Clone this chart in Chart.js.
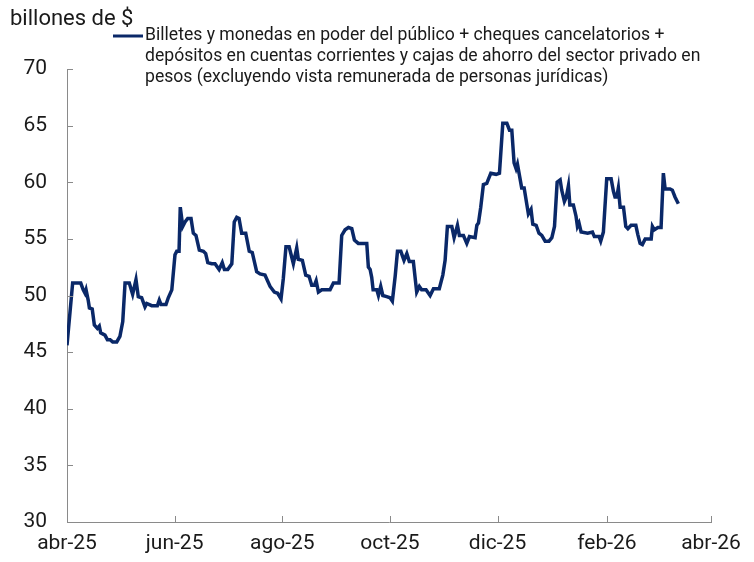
<!DOCTYPE html>
<html>
<head>
<meta charset="utf-8">
<script src="https://cdn.jsdelivr.net/npm/chart.js@4"></script>
<style>
html,body{margin:0;padding:0;background:#fff;}
#wrap{width:754px;height:562px;position:relative;}
</style>
</head>
<body>
<div id="wrap"><canvas id="c" width="754" height="562"></canvas></div>
<script>
// Days since 1 April 2025
const days = [
0,3.2,7.8,9.2,10.2,10.8,12,12.7,14.3,15.5,17.2,18.3,19.1,21.5,22.9,24.4,25.9,28.2,30,31.6,
32.9,35.3,37.2,39.1,40.4,42.3,44.2,45.2,48,51.2,52.3,53.3,56.1,57.4,59.4,61.2,62.2,63.5,64.2,65.6,
66.9,68.4,70.3,71.6,73.1,75,77.3,78.6,79.8,82,83.9,86.2,88,89.2,91.1,93.4,94.8,96.2,97.5,99,
101.3,103.3,105,107.5,109.4,112.2,115.1,117.5,119.4,121.3,122.6,124.1,125.9,128.3,130.2,131.1,133.4,135.3,137.2,138.7,
140.2,141.2,142.5,144.4,149.1,151,154.2,155.7,157.6,159.5,161.4,162.9,165.1,169.9,170.8,171.8,172.7,173.5,175.6,176.5,
177.8,179,181.2,183.1,184.4,186,187.3,189.2,191,192.6,194,196.3,198.2,199.7,201,203.5,205.8,207.7,211,213,
214.3,215.6,218.1,219.4,221.3,222.4,224.7,226.6,228.1,231.3,232.3,233.2,234.5,236,237.9,240.2,243.2,245.1,247,249.3,
250.8,252.1,253.4,254.5,255.3,257.7,259.1,261.5,263,264,265.9,267.5,269.1,271,273.2,274.8,276.3,277.8,279.5,280.4,
281.9,283,284.2,285,287,288.5,289.3,290.2,291.4,295.1,297.8,298.9,301.6,302.5,304,305.9,308.4,309.7,310.6,311.6,
312.5,313.5,315.4,316.7,317.9,319.7,322.4,323.5,324.8,326.1,327.7,331.1,331.8,332.9,334.9,336.7,338,339,341.8,343.1,
344.6,346.5
];
const values = [
45.6,51.1,51.1,50.5,50.2,50.5,49.6,48.9,48.8,47.4,47.1,47.3,46.7,46.5,46.1,46.1,45.9,45.9,46.4,47.7,
51.1,51.1,50.1,51.4,49.9,49.8,49.0,49.3,49.1,49.1,49.6,49.2,49.2,49.8,50.5,53.6,53.9,53.9,57.8,56.1,
56.5,56.8,56.8,55.5,55.3,54.0,53.9,53.7,52.9,52.8,52.8,52.3,52.9,52.3,52.3,52.8,56.5,56.9,56.8,55.5,
55.5,53.9,53.8,52.1,51.9,51.8,50.8,50.3,50.2,49.7,51.5,54.3,54.3,52.8,54.2,53.2,53.1,51.8,51.7,50.9,
50.9,51.3,50.3,50.5,50.5,51.1,51.1,55.3,55.8,56.0,55.9,54.9,54.6,54.6,52.5,52.3,51.6,50.5,50.5,50.0,
50.8,50.0,49.9,49.8,49.5,51.7,53.9,53.9,53.1,53.7,53.0,53.0,50.3,50.8,50.5,50.5,50.0,50.6,50.6,51.8,
53.1,56.1,56.1,55.1,56.2,55.3,55.3,54.6,55.2,55.1,56.2,56.4,57.8,59.8,59.9,60.8,60.7,60.8,65.2,65.2,
64.6,64.6,61.7,61.2,61.6,59.5,59.5,57.2,57.6,56.3,56.2,55.5,55.3,54.8,54.8,55.1,56.1,60.0,60.2,59.3,
58.3,58.7,59.7,58.0,58.0,57.0,56.1,56.4,55.6,55.5,55.6,55.2,55.2,54.8,55.6,60.3,60.3,59.2,58.7,58.7,
59.5,57.8,57.8,56.1,55.9,56.2,56.2,55.4,54.6,54.5,55.0,55.0,56.1,55.8,56.0,56.0,60.8,59.4,59.4,59.3,
58.7,58.1
];
const tickDays = [0,61,122,183,244,306,365];
const tickLabels = ['abr-25','jun-25','ago-25','oct-25','dic-25','feb-26','abr-26'];
const unitLabel = 'billones de $';
const legendLines = [
  'Billetes y monedas en poder del público + cheques cancelatorios +',
  'depósitos en cuentas corrientes y cajas de ahorro del sector privado en',
  'pesos (excluyendo vista remunerada de personas jurídicas)'
];

const LINE_COLOR = '#0a2868';
const TEXT_COLOR = '#1a1a1a';
const AXIS_COLOR = '#8a8a8a';
const FONT = 'Roboto, "Liberation Sans", sans-serif';

const points = days.map((d, i) => ({x: d, y: values[i]}));

const decor = {
  id: 'decor',
  afterDraw(chart) {
    const ctx = chart.ctx;
    const xs = chart.scales.x, ys = chart.scales.y;
    const ca = chart.chartArea;
    ctx.save();
    ctx.strokeStyle = AXIS_COLOR;
    ctx.lineWidth = 1;
    ys.ticks.forEach((t, i) => {
      const y = Math.round(ys.getPixelForTick(i)) + 0.5;
      ctx.beginPath(); ctx.moveTo(ca.left, y); ctx.lineTo(ca.left + 6, y); ctx.stroke();
    });
    xs.ticks.forEach((t, i) => {
      const x = Math.round(xs.getPixelForTick(i)) + 0.5;
      ctx.beginPath(); ctx.moveTo(x, ca.bottom); ctx.lineTo(x, ca.bottom - 6); ctx.stroke();
    });
    ctx.fillStyle = TEXT_COLOR;
    ctx.font = '22px ' + FONT;
    ctx.textBaseline = 'middle';
    ctx.textAlign = 'left';
    ctx.fillText(unitLabel, 10, 19);
    ctx.strokeStyle = LINE_COLOR;
    ctx.lineWidth = 3;
    ctx.beginPath(); ctx.moveTo(113, 36); ctx.lineTo(143, 36); ctx.stroke();
    ctx.font = '17.6px ' + FONT;
    legendLines.forEach((s, i) => ctx.fillText(s, 145, 36 + i * 21));
    ctx.restore();
  }
};

new Chart(document.getElementById('c'), {
  type: 'line',
  data: {
    datasets: [{
      label: legendLines.join(' '),
      data: points,
      borderColor: LINE_COLOR,
      backgroundColor: LINE_COLOR,
      borderWidth: 3.5,
      pointRadius: 0,
      tension: 0,
      fill: false
    }]
  },
  options: {
    responsive: false,
    animation: false,
    devicePixelRatio: 1,
    layout: {padding: {left: 0, right: 43, top: 69, bottom: 0}},
    plugins: {legend: {display: false}, tooltip: {enabled: false}, title: {display: false}},
    scales: {
      x: {
        type: 'linear',
        min: 0, max: 365,
        afterBuildTicks: (s) => { s.ticks = tickDays.map(v => ({value: v})); },
        afterFit: (s) => { s.height = 40; },
        grid: {display: false},
        border: {display: true, color: AXIS_COLOR, width: 1},
        ticks: {
          autoSkip: false, maxRotation: 0, padding: 1,
          color: TEXT_COLOR, font: {family: FONT, size: 21},
          callback: (v) => { const i = tickDays.indexOf(v); return i >= 0 ? tickLabels[i] : ''; }
        }
      },
      y: {
        min: 30, max: 70,
        afterFit: (s) => { s.width = 67; },
        grid: {display: false},
        border: {display: true, color: AXIS_COLOR, width: 1},
        ticks: {stepSize: 5, padding: 12, color: TEXT_COLOR, font: {family: FONT, size: 21}}
      }
    }
  },
  plugins: [decor]
});
</script>
</body>
</html>
